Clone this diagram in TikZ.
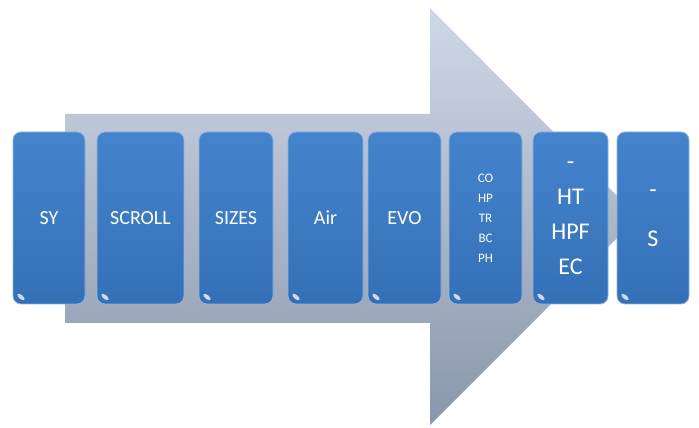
\documentclass[tikz,border=0pt]{standalone}
\usepackage{fontspec}
\setmainfont{Carlito}
\usetikzlibrary{positioning, shapes.geometric}

\definecolor{arrowtop}{HTML}{CFD8E7}
\definecolor{arrowbot}{HTML}{8A96AB}
\definecolor{boxtop}{HTML}{4484CC}
\definecolor{boxbot}{HTML}{3470B8}
\definecolor{boxedge}{HTML}{8DB4E0}

\begin{document}
\begin{tikzpicture}[
    x=1pt, y=1pt,
    node distance=12pt,
    stage/.style={draw=boxedge, line width=0.8pt, rounded corners=8pt, top color=boxtop, bottom color=boxbot, minimum height=172pt, inner sep=0pt, outer sep=0pt, text=white, font=\fontsize{20}{24}\selectfont, align=center},
    hilite/.style={ellipse, fill=white, fill opacity=0.75, minimum width=9pt, minimum height=4pt, inner sep=0pt, rotate=-40},
]
\useasboundingbox (0,0) rectangle (699,428);

% Big arrow behind the stages
\shade[top color=arrowtop, bottom color=arrowbot]
    (65,314) -- (430,314) -- (430,420) -- (638,211) -- (430,3) -- (430,105) -- (65,105) -- cycle;

% Stages
\node[stage, minimum width=72pt, anchor=west] (sy) at (13,210) {SY};
\node[stage, minimum width=87pt, right=12pt of sy] (scroll) {SCROLL};
\node[stage, minimum width=74pt, right=15pt of scroll] (sizes) {SIZES};
\node[stage, minimum width=75pt, right=15pt of sizes] (air) {Air};
\node[stage, minimum width=73pt, right=5pt of air] (evo) {EVO};
\node[stage, minimum width=73pt, right=8pt of evo, font=\fontsize{13}{20}\selectfont] (co) {CO\\HP\\TR\\BC\\PH};
\node[stage, minimum width=75pt, right=11pt of co, font=\fontsize{24}{35}\selectfont] (ht) {-\\HT\\HPF\\EC};
\node[stage, minimum width=72pt, right=9pt of ht, font=\fontsize{24}{34}\selectfont] (s) {-\\[15pt]S};

% Gloss marks
\foreach \n in {sy, scroll, sizes, air, evo, co, ht, s}
    \node[hilite] at ([shift={(8,7)}]\n.south west) {};

\end{tikzpicture}
\end{document}
